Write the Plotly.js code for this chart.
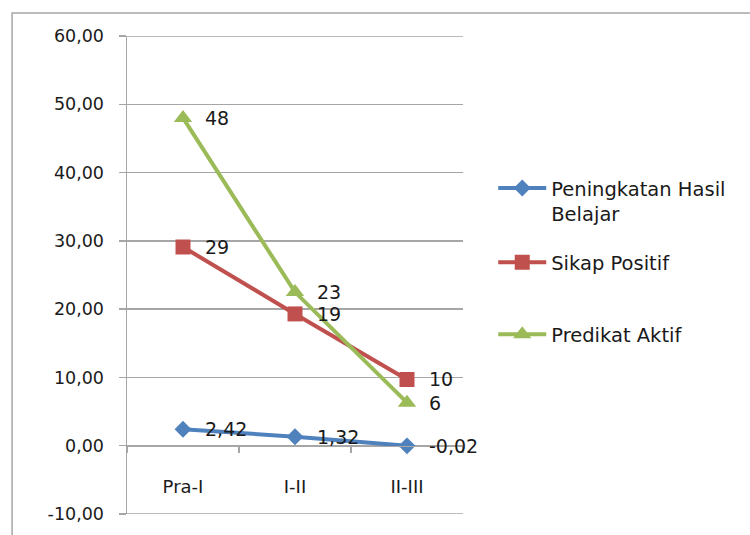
<!DOCTYPE html>
<html>
<head>
<meta charset="utf-8">
<script src="https://cdn.plot.ly/plotly-3.0.1.min.js"></script>
<style>html,body{margin:0;padding:0;background:#fff;}#chart{width:750px;height:535px;}</style>
</head>
<body>
<div id="chart"></div>
<script>
const categories = ["Pra-I", "I-II", "II-III"];
const seriesNames = ["Peningkatan Hasil<br>Belajar", "Sikap Positif", "Predikat Aktif"];
const hasilBelajar = [2.42, 1.32, -0.02];
const sikapPositif = [29.1, 19.3, 9.7];
const predikatAktif = [48.0, 22.5, 6.3];
const hasilLabels = ["2,42", "1,32", "-0,02"];
const sikapLabels = ["29", "19", "10"];
const predikatLabels = ["48", "23", "6"];
const yTicks = [-10, 0, 10, 20, 30, 40, 50, 60];
const yTickText = ["-10,00", "0,00", "10,00", "20,00", "30,00", "40,00", "50,00", "60,00"];

const FONT = "DejaVu Sans, Verdana, sans-serif";
const TXT = "#1a1a1a";
const GRID = "#a6a6a6";

const series = [
  {name: seriesNames[0], y: hasilBelajar, labels: hasilLabels, color: "#4f81bd", symbol: "diamond", size: 13, legend: "legend"},
  {name: seriesNames[1], y: sikapPositif, labels: sikapLabels, color: "#c0504d", symbol: "square", size: 15, legend: "legend2"},
  {name: seriesNames[2], y: predikatAktif, labels: predikatLabels, color: "#9bbb59", symbol: "triangle-up", size: 16, legend: "legend3"}
];

const traces = series.map(s => ({
  type: "scatter",
  mode: "lines+markers",
  x: categories,
  y: s.y,
  name: s.name,
  legend: s.legend,
  line: {color: s.color, width: 4},
  marker: {color: s.color, symbol: s.symbol, size: s.size, line: {width: 0}},
  hoverinfo: "skip"
}));

const annotations = [];
series.forEach(s => {
  s.y.forEach((v, i) => {
    annotations.push({
      x: categories[i], y: v, xref: "x", yref: "y",
      text: s.labels[i], showarrow: false,
      xanchor: "left", yanchor: "middle", xshift: 21, borderpad: 0,
      font: {family: FONT, size: 19, color: TXT}
    });
  });
});

const legendBase = {
  xanchor: "left", yanchor: "top", x: 1.09,
  bgcolor: "rgba(0,0,0,0)", borderwidth: 0,
  font: {family: FONT, size: 19.5, color: TXT},
  valign: "top", itemwidth: 48
};

const edgeTicks = [yTicks[0], yTicks[yTicks.length - 1]];
const shapes = edgeTicks.map(t => ({
  type: "line", xref: "paper", yref: "y",
  x0: 0, x1: 1, y0: t, y1: t,
  line: {color: GRID, width: 1.5}, layer: "below"
}));
shapes.push({
  type: "rect", xref: "paper", yref: "paper",
  x0: -0.342, x1: 1.9, y0: -0.1, y1: 1.048,
  line: {color: GRID, width: 1.5}, fillcolor: "rgba(0,0,0,0)", layer: "below"
});

const layout = {
  width: 750, height: 535,
  margin: {l: 127, r: 287, t: 36, b: 21, pad: 0},
  paper_bgcolor: "#ffffff", plot_bgcolor: "#ffffff",
  separators: ",.",
  showlegend: true,
  font: {family: FONT, size: 18, color: TXT},
  xaxis: {
    type: "category", range: [-0.5, 2.5],
    anchor: "free", position: 1/7,
    showline: true, linecolor: GRID, linewidth: 1.5,
    showgrid: false, zeroline: false,
    ticks: "outside", tickson: "boundaries", ticklen: 6, tickcolor: GRID, tickwidth: 1.5,
    ticklabelstandoff: 24,
    tickfont: {family: FONT, size: 18, color: TXT}
  },
  yaxis: {
    range: [-10, 60], tickmode: "array", tickvals: yTicks, ticktext: yTickText,
    showline: true, linecolor: GRID, linewidth: 1.5,
    showgrid: true, gridcolor: GRID, gridwidth: 1.5,
    zeroline: false,
    ticks: "outside", ticklen: 7, tickcolor: GRID, tickwidth: 1.5,
    ticklabelstandoff: 11,
    tickfont: {family: FONT, size: 17.5, color: TXT}
  },
  legend: Object.assign({}, legendBase, {y: 0.722}),
  legend2: Object.assign({}, legendBase, {y: 0.567}),
  legend3: Object.assign({}, legendBase, {y: 0.416}),
  annotations: annotations,
  shapes: shapes
};

Plotly.newPlot("chart", traces, layout, {displayModeBar: false, staticPlot: true});
</script>
</body>
</html>
